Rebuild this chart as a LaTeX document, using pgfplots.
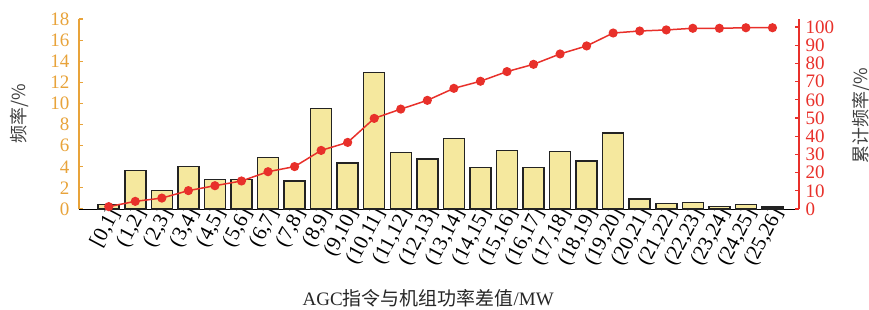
\documentclass[border=0pt]{standalone}
\usepackage{pgfplots}
\pgfplotsset{compat=1.18}
\usepackage{fontspec}
\setmainfont{Liberation Serif}
\newfontfamily\cjk{Noto Sans CJK SC}
\definecolor{orgc}{RGB}{232,163,58}
\definecolor{redc}{RGB}{232,48,42}
\definecolor{barc}{RGB}{245,232,158}
\definecolor{edgec}{RGB}{35,35,35}
\begin{document}
\begin{tikzpicture}
\begin{axis}[
  scale only axis, width=720pt, height=190pt,
  xmin=-1.12, xmax=26.0, ymin=0, ymax=18,
  axis x line*=bottom, axis y line*=left,
  axis line style={-},
  x axis line style={draw=black, line width=1pt},
  y axis line style={draw=orgc, line width=1.5pt},
  xtick=data,
  xticklabels={{[0,1]},{(1,2]},{(2,3]},{(3,4]},{(4,5]},{(5,6]},{(6,7]},{(7,8]},{(8,9]},{(9,10]},{(10,11]},{(11,12]},{(12,13]},{(13,14]},{(14,15]},{(15,16]},{(16,17]},{(17,18]},{(18,19]},{(19,20]},{(20,21]},{(21,22]},{(22,23]},{(23,24]},{(24,25]},{(25,26]}},
  xticklabel style={rotate=62, anchor=east, font=\fontsize{21}{21}\selectfont, xshift=3pt, yshift=-6pt, inner sep=1pt},
  xtick style={draw=none},
  ytick={0,2,...,18},
  ytick style={draw=orgc, line width=1.2pt},
  tick align=inside, major tick length=4pt,
  yticklabel style={text=orgc, font=\fontsize{19}{19}\selectfont, xshift=-6pt},
  /pgf/number format/assume math mode=true,
  ylabel={\cjk 频率/\%},
  ylabel style={font=\fontsize{18}{18}\selectfont, text=black!75, at={(axis description cs:-0.082,0.5)}, anchor=center},
  xlabel={AGC{\cjk 指令与机组功率差值}/MW},
  xlabel style={font=\fontsize{19}{19}\selectfont, text=black!85, at={(axis description cs:0.485,0)}, yshift=-89pt, anchor=center},
]
\addplot[ybar, bar width=21pt, fill=barc, draw=edgec, line width=1.5pt] coordinates {
(0,0.45) (1,3.63) (2,1.77) (3,4.04) (4,2.78) (5,2.78) (6,4.89) (7,2.65)
(8,9.53) (9,4.36) (10,12.94) (11,5.37) (12,4.73) (13,6.66) (14,3.91) (15,5.56)
(16,3.91) (17,5.43) (18,4.55) (19,7.2) (20,0.95) (21,0.54) (22,0.6) (23,0.26)
(24,0.44) (25,0.19)};
\end{axis}
\begin{axis}[
  scale only axis, width=720pt, height=190pt,
  xmin=-1.12, xmax=26.0, ymin=0, ymax=104.4,
  axis x line=none, axis y line*=right,
  axis line style={-},
  y axis line style={draw=redc, line width=1.5pt},
  ytick={0,10,...,100},
  ytick style={draw=redc, line width=1.2pt},
  tick align=inside, major tick length=4pt,
  yticklabel style={text=redc, font=\fontsize{19}{19}\selectfont, xshift=3pt},
  /pgf/number format/assume math mode=true,
  ylabel={\cjk 累计频率/\%},
  ylabel style={font=\fontsize{18}{18}\selectfont, text=black!75, at={(axis description cs:1.0861,0.49)}, anchor=center},
]
\addplot[redc, line width=1.5pt, mark=*, mark size=3.8pt, mark options={fill=redc, draw=redc}] coordinates {
(0,1.3) (1,4.2) (2,6.0) (3,10.1) (4,12.8) (5,15.4) (6,20.5) (7,23.3)
(8,32.2) (9,36.6) (10,49.8) (11,54.9) (12,59.7) (13,66.3) (14,70.2) (15,75.5)
(16,79.5) (17,85.2) (18,89.6) (19,96.7) (20,97.8) (21,98.4) (22,99.3) (23,99.3)
(24,99.6) (25,99.6)};
\end{axis}
\pgfresetboundingbox
\useasboundingbox (-79pt,-100pt) rectangle (790pt,209pt);
\end{tikzpicture}
\end{document}
